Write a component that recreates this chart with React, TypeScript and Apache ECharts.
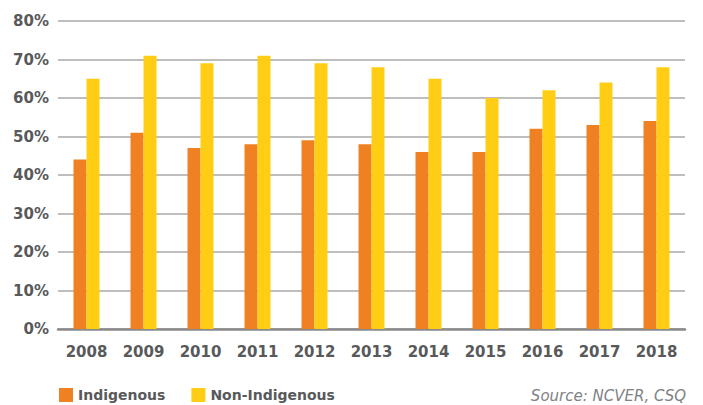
import React, { useEffect, useRef } from "react";
import * as echarts from "echarts";

const years = ["2008", "2009", "2010", "2011", "2012", "2013", "2014", "2015", "2016", "2017", "2018"];
const indigenous = [44, 51, 47, 48, 49, 48, 46, 46, 52, 53, 54];
const nonIndigenous = [65, 71, 69, 71, 69, 68, 65, 60, 62, 64, 68];
const yTicks = { min: 0, max: 80, interval: 10 };

const FONT = "'DejaVu Sans', 'Open Sans', sans-serif";

export default function App() {
  const ref = useRef<HTMLDivElement>(null);
  useEffect(() => {
    if (!ref.current) return;
    const chart = echarts.init(ref.current, null, { renderer: "svg" });
    chart.setOption({
      animation: false,
      grid: { left: 58, right: 18, top: 21, bottom: 76, containLabel: false },
      legend: {
        left: 57,
        top: 386,
        padding: [2, 2, 0, 2],
        itemWidth: 14,
        itemHeight: 14,
        itemGap: 26,
        icon: "rect",
        textStyle: { fontFamily: FONT, fontWeight: "bold", fontSize: 14, color: "#58595b" },
        data: ["Indigenous", "Non-Indigenous"],
      },
      graphic: [
        {
          type: "text",
          right: 17,
          top: 388,
          style: {
            text: "Source: NCVER, CSQ",
            fontFamily: FONT,
            fontStyle: "italic",
            fontSize: 15,
            fill: "#808285",
          },
        },
      ],
      xAxis: {
        type: "category",
        data: years,
        axisTick: { show: false },
        axisLine: { lineStyle: { color: "#8a8a8a", width: 2.5 } },
        axisLabel: {
          margin: 15,
          fontFamily: FONT,
          fontWeight: "bold",
          fontSize: 15,
          color: "#58595b",
        },
      },
      yAxis: {
        type: "value",
        min: yTicks.min,
        max: yTicks.max,
        interval: yTicks.interval,
        axisLine: { show: false },
        axisTick: { show: false },
        splitLine: { lineStyle: { color: "#a8a8a8", width: 1.5 } },
        axisLabel: {
          margin: 9,
          formatter: "{value}%",
          fontFamily: FONT,
          fontWeight: "bold",
          fontSize: 15,
          color: "#58595b",
        },
      },
      series: [
        {
          name: "Indigenous",
          type: "bar",
          data: indigenous,
          barWidth: 13,
          barGap: "0%",
          itemStyle: { color: "#F08122" },
        },
        {
          name: "Non-Indigenous",
          type: "bar",
          data: nonIndigenous,
          barWidth: 13,
          barGap: "0%",
          itemStyle: { color: "#FFCE14" },
        },
      ],
    });
    return () => chart.dispose();
  }, []);
  return (
    <div
      ref={ref}
      style={{ position: "fixed", left: 0, top: 0, width: 703, height: 405, background: "#fff" }}
    />
  );
}
